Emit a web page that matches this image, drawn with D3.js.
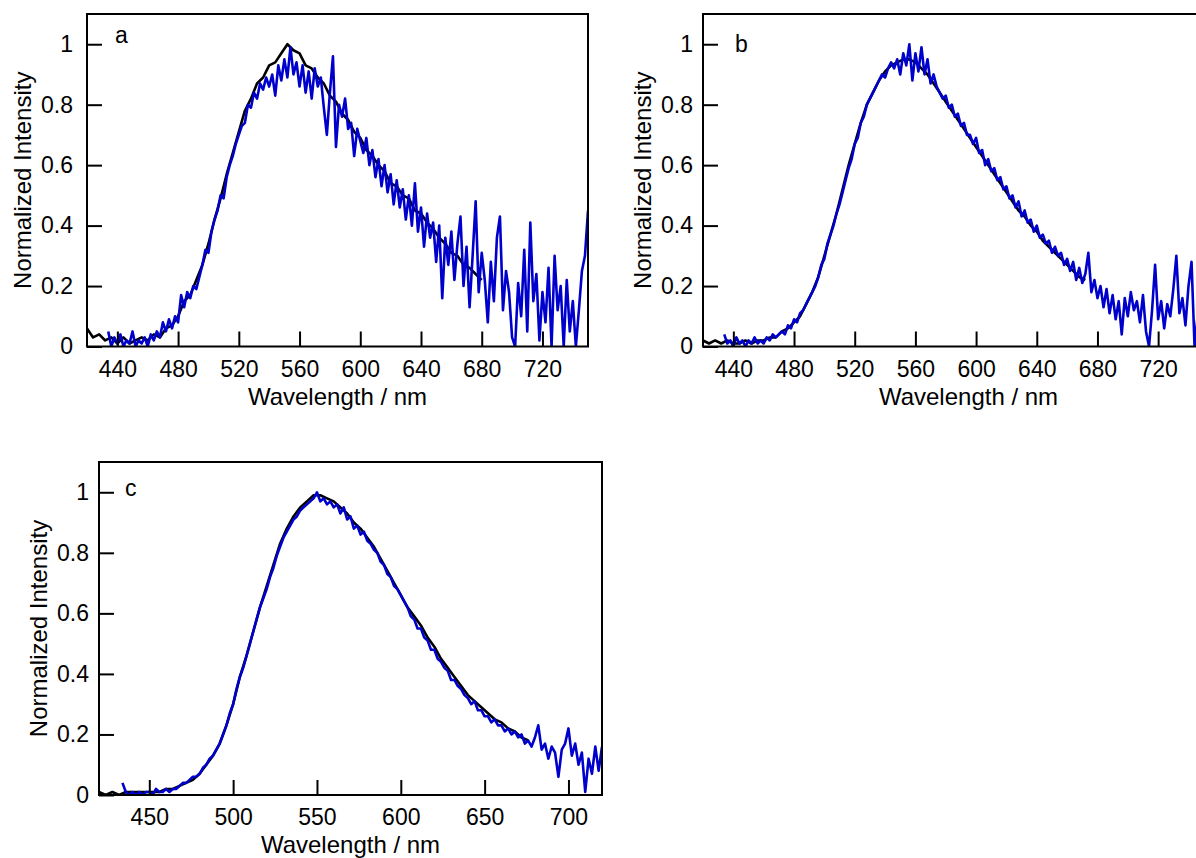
<!DOCTYPE html>
<html>
<head>
<meta charset="utf-8">
<script src="https://cdn.jsdelivr.net/npm/d3@7"></script>
<style>
  body { margin: 0; background: #fff; }
  svg { display: block; }
  text { font-family: "Liberation Sans", Arial, sans-serif; }
</style>
</head>
<body>
<script>
const width = 1196;
const height = 858;

// each spectrum: first wavelength, sampling step (nm), normalized intensities
const aBlackStart = 420, aBlackStep = 4;
const aBlack = [0.06,0.03,0.04,0.02,0.03,0.01,0.03,0.01,0.02,0.03,
  0.02,0.04,0.03,0.06,0.07,0.10,0.15,0.17,0.22,0.27,
  0.34,0.42,0.49,0.57,0.64,0.71,0.78,0.82,0.87,0.89,
  0.93,0.94,0.97,1.00,0.98,0.97,0.93,0.92,0.89,0.87,
  0.83,0.81,0.77,0.75,0.71,0.69,0.65,0.63,0.60,0.58,
  0.54,0.53,0.50,0.49,0.45,0.44,0.41,0.39,0.36,0.34,
  0.31,0.30,0.27,0.26,0.24,0.22];

const aBlueStart = 434, aBlueStep = 2;
const aBlue = [0.05,0.00,0.03,0.01,0.04,0.00,0.02,0.01,0.05,0.00,
  0.02,0.01,0.03,0.00,0.04,0.02,0.05,0.03,0.08,0.05,
  0.09,0.06,0.10,0.08,0.17,0.13,0.18,0.16,0.20,0.19,
  0.23,0.27,0.32,0.31,0.38,0.42,0.45,0.50,0.49,0.56,
  0.60,0.63,0.67,0.70,0.73,0.74,0.80,0.79,0.84,0.82,
  0.87,0.85,0.89,0.86,0.90,0.83,0.93,0.88,0.95,0.89,
  0.99,0.90,0.94,0.86,0.93,0.84,0.91,0.82,0.92,0.86,
  0.89,0.79,0.70,0.84,0.96,0.66,0.80,0.76,0.82,0.72,
  0.74,0.63,0.72,0.68,0.64,0.69,0.60,0.65,0.56,0.62,
  0.53,0.60,0.51,0.57,0.47,0.55,0.46,0.52,0.42,0.50,
  0.40,0.54,0.38,0.46,0.33,0.44,0.36,0.41,0.28,0.40,
  0.16,0.36,0.27,0.38,0.22,0.34,0.43,0.20,0.33,0.13,
  0.30,0.48,0.18,0.31,0.22,0.08,0.28,0.15,0.36,0.43,
  0.12,0.25,0.18,0.03,0.00,0.21,0.10,0.32,0.05,0.41,
  0.15,0.24,0.02,0.18,0.08,0.26,0.00,0.30,0.12,0.20,
  0.00,0.22,0.05,0.15,0.00,0.12,0.25,0.30,0.45];

const bBlackStart = 420, bBlackStep = 4;
const bBlack = [0.02,0.01,0.02,0.01,0.02,0.01,0.01,0.02,0.01,0.02,
  0.02,0.03,0.03,0.05,0.06,0.08,0.10,0.14,0.18,0.23,
  0.30,0.37,0.44,0.52,0.60,0.67,0.74,0.80,0.84,0.88,
  0.91,0.93,0.94,0.95,0.95,0.94,0.92,0.90,0.87,0.84,
  0.81,0.78,0.75,0.72,0.69,0.66,0.63,0.60,0.57,0.54,
  0.51,0.48,0.45,0.43,0.40,0.38,0.35,0.33,0.31,0.29,
  0.27,0.25,0.23,0.22];

const bBlueStart = 434, bBlueStep = 2;
const bBlue = [0.04,0.01,0.02,0.00,0.03,0.01,0.02,0.00,0.02,0.01,
  0.03,0.01,0.02,0.01,0.03,0.02,0.04,0.03,0.04,0.05,
  0.04,0.07,0.06,0.09,0.08,0.11,0.12,0.14,0.16,0.18,
  0.20,0.23,0.27,0.29,0.34,0.37,0.40,0.44,0.47,0.51,
  0.55,0.59,0.62,0.67,0.69,0.74,0.76,0.80,0.82,0.84,
  0.86,0.88,0.90,0.89,0.92,0.94,0.92,0.95,0.90,0.97,
  0.93,1.00,0.88,0.97,0.91,0.99,0.90,0.95,0.87,0.90,
  0.86,0.84,0.82,0.83,0.79,0.80,0.76,0.77,0.73,0.74,
  0.70,0.70,0.67,0.69,0.64,0.65,0.60,0.62,0.58,0.59,
  0.55,0.56,0.52,0.53,0.49,0.50,0.46,0.48,0.43,0.45,
  0.41,0.42,0.38,0.40,0.36,0.37,0.34,0.35,0.31,0.33,
  0.30,0.31,0.27,0.29,0.25,0.28,0.22,0.26,0.21,0.24,
  0.31,0.18,0.22,0.16,0.20,0.13,0.19,0.11,0.17,0.09,
  0.15,0.04,0.16,0.10,0.18,0.12,0.15,0.08,0.17,0.05,
  0.00,0.12,0.27,0.09,0.15,0.06,0.14,0.10,0.19,0.30,
  0.11,0.16,0.07,0.20,0.28,0.00,0.10];

const cBlackStart = 420, cBlackStep = 4;
const cBlack = [0.01,0.00,0.01,0.00,0.01,0.01,0.01,0.01,0.01,0.01,
  0.02,0.02,0.03,0.04,0.05,0.07,0.10,0.13,0.17,0.23,
  0.30,0.39,0.46,0.54,0.62,0.69,0.76,0.83,0.88,0.92,
  0.95,0.97,0.99,0.99,0.98,0.97,0.95,0.93,0.90,0.88,
  0.85,0.82,0.78,0.74,0.70,0.66,0.62,0.59,0.56,0.52,
  0.49,0.45,0.42,0.39,0.36,0.33,0.31,0.29,0.27,0.25,
  0.24,0.22,0.21,0.19,0.18];

const cBlueStart = 434, cBlueStep = 2;
const cBlue = [0.04,0.01,0.00,0.01,0.00,0.01,0.00,0.01,0.01,0.00,
  0.02,0.01,0.01,0.02,0.01,0.02,0.02,0.03,0.04,0.04,
  0.05,0.06,0.06,0.07,0.09,0.10,0.12,0.13,0.15,0.17,
  0.20,0.23,0.27,0.30,0.35,0.39,0.42,0.46,0.50,0.54,
  0.58,0.62,0.65,0.68,0.72,0.75,0.79,0.82,0.85,0.87,
  0.89,0.91,0.92,0.94,0.95,0.96,0.97,0.98,1.00,0.97,
  0.98,0.96,0.97,0.95,0.96,0.93,0.95,0.91,0.92,0.88,
  0.89,0.86,0.87,0.84,0.83,0.81,0.80,0.77,0.76,0.73,
  0.72,0.69,0.68,0.66,0.64,0.62,0.59,0.58,0.55,0.55,
  0.52,0.51,0.48,0.48,0.45,0.44,0.42,0.41,0.38,0.38,
  0.36,0.35,0.33,0.32,0.30,0.31,0.28,0.28,0.26,0.26,
  0.24,0.25,0.23,0.23,0.21,0.22,0.20,0.21,0.19,0.20,
  0.17,0.18,0.16,0.19,0.23,0.15,0.17,0.12,0.16,0.14,
  0.06,0.15,0.17,0.22,0.13,0.17,0.10,0.14,0.01,0.12,
  0.07,0.16,0.08,0.16];

const xTicksAB = [440, 480, 520, 560, 600, 640, 680, 720];
const xTicksC = [450, 500, 550, 600, 650, 700];
const yTicks = [0, 0.2, 0.4, 0.6, 0.8, 1];
const xTitle = 'Wavelength / nm';
const yTitle = 'Normalized Intensity';

const panels = [
  { label: 'a', left: 87, right: 588, top: 14, bottom: 346.5, xDomain: [420, 750], xTicks: xTicksAB,
    black: [aBlackStart, aBlackStep, aBlack], blue: [aBlueStart, aBlueStep, aBlue],
    labelPos: [115, 43], yPad: 14, yTitleX: 31 },
  { label: 'b', left: 703, right: 1234, top: 14, bottom: 346.5, xDomain: [420, 770], xTicks: xTicksAB,
    black: [bBlackStart, bBlackStep, bBlack], blue: [bBlueStart, bBlueStep, bBlue],
    labelPos: [735, 52], yPad: 10, yTitleX: 651 },
  { label: 'c', left: 99, right: 602, top: 462, bottom: 795, xDomain: [420, 720], xTicks: xTicksC,
    black: [cBlackStart, cBlackStep, cBlack], blue: [cBlueStart, cBlueStep, cBlue],
    labelPos: [125, 496], yPad: 10, yTitleX: 47 }
];

const tickFont = 23;
const titleFont = 24;

const svg = d3.select('body')
  .append('svg')
  .attr('width', width)
  .attr('height', height);

svg.append('rect')
  .attr('width', width)
  .attr('height', height)
  .attr('fill', 'white');

panels.forEach((p, i) => {
  const x = d3.scaleLinear().domain(p.xDomain).range([p.left, p.right]);
  const y = d3.scaleLinear().domain([0, 1.1]).range([p.bottom, p.top]);
  const g = svg.append('g');

  // clip the spectra to the plot frame
  const clipId = 'clip' + i;
  svg.append('clipPath').attr('id', clipId)
    .append('rect')
    .attr('x', p.left)
    .attr('y', p.top)
    .attr('width', p.right - p.left)
    .attr('height', p.bottom - p.top);

  const line = (start, step) => d3.line()
    .x((d, k) => x(start + k * step))
    .y(d => y(d));

  [[p.black, '#000000'], [p.blue, '#0000cc']].forEach(([s, color]) => {
    g.append('path')
      .datum(s[2])
      .attr('clip-path', `url(#${clipId})`)
      .attr('fill', 'none')
      .attr('stroke', color)
      .attr('stroke-width', 2.6)
      .attr('stroke-linejoin', 'round')
      .attr('d', line(s[0], s[1]));
  });

  // axes with inward ticks
  const xAxis = g.append('g')
    .attr('transform', `translate(0,${p.bottom})`)
    .call(d3.axisBottom(x).tickValues(p.xTicks).tickSizeInner(-15).tickSizeOuter(0).tickPadding(14));
  const yAxis = g.append('g')
    .attr('transform', `translate(${p.left},0)`)
    .call(d3.axisLeft(y).tickValues(yTicks).tickFormat(d3.format('~g')).tickSizeInner(-15).tickSizeOuter(0).tickPadding(p.yPad));

  [xAxis, yAxis].forEach(ax => {
    ax.select('.domain').remove();
    ax.selectAll('line').attr('stroke', 'black').attr('stroke-width', 2);
    ax.selectAll('text')
      .attr('font-size', tickFont)
      .attr('fill', 'black')
      .attr('font-family', '"Liberation Sans", Arial, sans-serif');
  });

  // frame
  g.append('rect')
    .attr('x', p.left)
    .attr('y', p.top)
    .attr('width', p.right - p.left)
    .attr('height', p.bottom - p.top)
    .attr('fill', 'none')
    .attr('stroke', 'black')
    .attr('stroke-width', 2);

  // titles
  g.append('text')
    .attr('x', (p.left + p.right) / 2)
    .attr('y', p.bottom + 58)
    .attr('text-anchor', 'middle')
    .attr('font-size', titleFont)
    .text(xTitle);

  g.append('text')
    .attr('transform', `translate(${p.yTitleX},${(p.top + p.bottom) / 2}) rotate(-90)`)
    .attr('text-anchor', 'middle')
    .attr('font-size', titleFont)
    .text(yTitle);

  g.append('text')
    .attr('x', p.labelPos[0])
    .attr('y', p.labelPos[1])
    .attr('font-size', tickFont)
    .text(p.label);
});
</script>
</body>
</html>
